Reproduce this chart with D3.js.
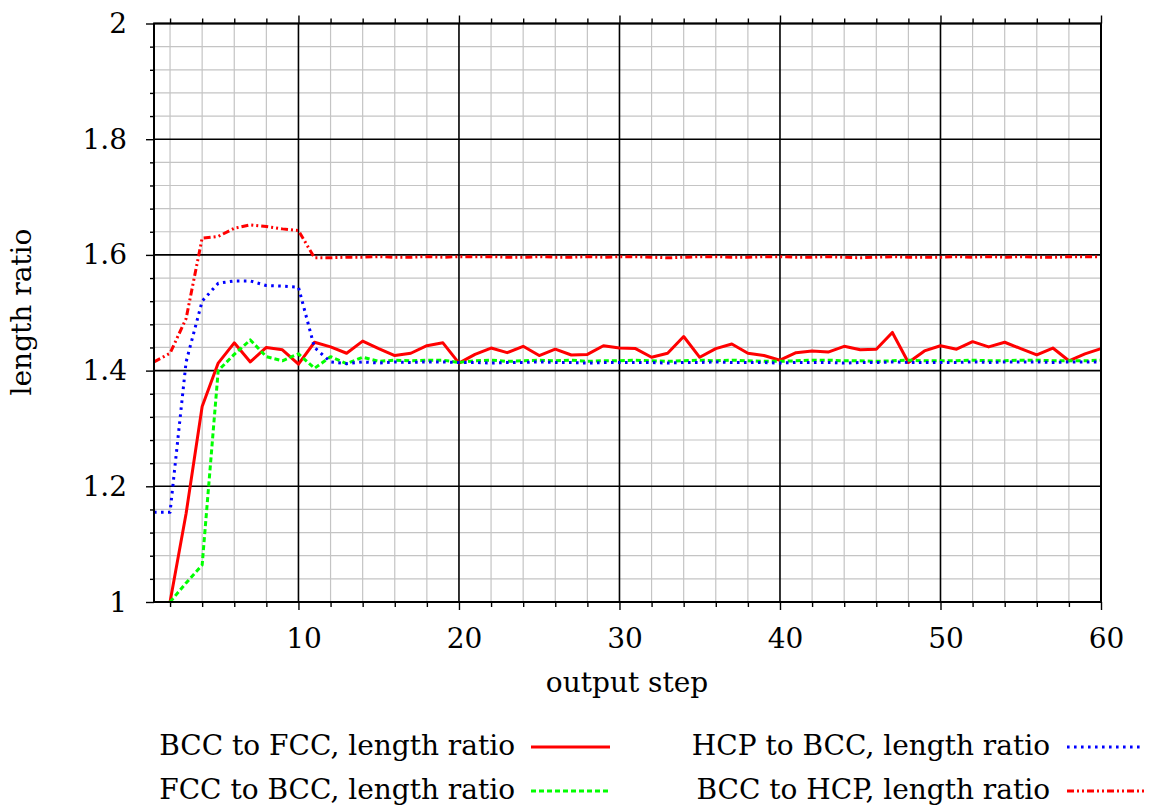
<!DOCTYPE html>
<html>
<head>
<meta charset="utf-8">
<script src="https://cdn.jsdelivr.net/npm/d3@7"></script>
<style>
  html, body { margin: 0; padding: 0; background: #fff; }
  svg { display: block; }
  text { font-family: "DejaVu Serif", "Liberation Serif", serif; fill: #000; }
</style>
</head>
<body>
<svg id="chart" width="1153" height="805"></svg>
<script>
// ---------- data ----------
const steps = [1,2,3,4,5,6,7,8,9,10,11,12,13,14,15,16,17,18,19,20,
  21,22,23,24,25,26,27,28,29,30,31,32,33,34,35,36,37,38,39,40,
  41,42,43,44,45,46,47,48,49,50,51,52,53,54,55,56,57,58,59,60];

const bccToFcc = [null,1.000,1.153,1.338,1.413,1.448,1.415,1.440,1.436,1.411,
  1.449,1.441,1.430,1.451,1.438,1.426,1.430,1.443,1.448,1.413,
  1.428,1.439,1.431,1.442,1.426,1.437,1.427,1.428,1.443,1.439,
  1.438,1.423,1.430,1.459,1.423,1.438,1.446,1.430,1.426,1.418,
  1.431,1.434,1.432,1.442,1.436,1.437,1.466,1.414,1.434,1.443,
  1.437,1.450,1.441,1.449,1.438,1.427,1.439,1.417,1.429,1.438];

const fccToBcc = [null,1.000,1.033,1.064,1.400,1.428,1.453,1.424,1.417,1.429,
  1.404,1.424,1.412,1.423,1.416,1.418,1.417,1.418,1.418,1.414,
  1.417,1.418,1.416,1.417,1.418,1.417,1.418,1.416,1.417,1.417,
  1.418,1.417,1.416,1.417,1.418,1.417,1.418,1.417,1.416,1.416,
  1.417,1.418,1.418,1.417,1.417,1.416,1.417,1.418,1.417,1.417,
  1.417,1.418,1.417,1.417,1.418,1.418,1.417,1.417,1.417,1.418];

const hcpToBcc = [1.155,1.155,1.415,1.520,1.551,1.555,1.555,1.547,1.546,1.544,
  1.440,1.415,1.412,1.415,1.413,1.415,1.414,1.415,1.415,1.414,
  1.414,1.413,1.414,1.414,1.415,1.414,1.414,1.413,1.414,1.414,
  1.414,1.414,1.413,1.414,1.414,1.415,1.414,1.414,1.414,1.413,
  1.414,1.414,1.414,1.413,1.414,1.414,1.415,1.414,1.414,1.414,
  1.414,1.415,1.414,1.415,1.415,1.415,1.414,1.415,1.415,1.415];

const bccToHcp = [1.415,1.430,1.490,1.629,1.632,1.646,1.652,1.649,1.645,1.642,
  1.595,1.595,1.596,1.596,1.597,1.596,1.596,1.597,1.596,1.597,
  1.597,1.597,1.596,1.596,1.597,1.596,1.596,1.597,1.596,1.597,
  1.597,1.596,1.595,1.596,1.597,1.597,1.596,1.596,1.597,1.597,
  1.596,1.596,1.597,1.596,1.595,1.596,1.597,1.596,1.596,1.596,
  1.597,1.596,1.597,1.596,1.597,1.596,1.596,1.597,1.597,1.597];

const xTicks = [10,20,30,40,50,60];
const xMinorTicks = [2,4,6,8,12,14,16,18,22,24,26,28,32,34,36,38,42,44,46,48,52,54,56,58];
const yTicks = [1,1.2,1.4,1.6,1.8,2];
const yMinorTicks = [1.04,1.08,1.12,1.16,1.24,1.28,1.32,1.36,1.44,1.48,1.52,1.56,1.64,1.68,1.72,1.76,1.84,1.88,1.92,1.96];

const seriesNames = ["BCC to FCC, length ratio","FCC to BCC, length ratio","HCP to BCC, length ratio","BCC to HCP, length ratio"];
const seriesColors = ["#ff0000","#00ff00","#0000ff","#ff0000"];
const seriesDash = [null,"5,3","2.6,4.4","7,3,2,3,2,3"];
const seriesData = [bccToFcc, fccToBcc, hcpToBcc, bccToHcp];

// ---------- layout ----------
const svg = d3.select("#chart");
const L = 154, R = 1101, T = 23.5, B = 602;
const x = d3.scaleLinear().domain([1,60]).range([L,R]);
const y = d3.scaleLinear().domain([1,2]).range([B,T]);
const FONT = "'DejaVu Serif', 'Liberation Serif', serif";

// minor grid
const g = svg.append("g");
g.selectAll("line.vmin").data(xMinorTicks).join("line")
  .attr("x1", d=>x(d)).attr("x2", d=>x(d)).attr("y1", T).attr("y2", B)
  .attr("stroke", "#c4c4c4").attr("stroke-width", 1.2);
g.selectAll("line.hmin").data(yMinorTicks).join("line")
  .attr("y1", d=>y(d)).attr("y2", d=>y(d)).attr("x1", L).attr("x2", R)
  .attr("stroke", "#c4c4c4").attr("stroke-width", 1.2);
// major grid
g.selectAll("line.vmaj").data(xTicks).join("line")
  .attr("x1", d=>x(d)).attr("x2", d=>x(d)).attr("y1", T).attr("y2", B)
  .attr("stroke", "#000").attr("stroke-width", 1.6);
g.selectAll("line.hmaj").data(yTicks).join("line")
  .attr("y1", d=>y(d)).attr("y2", d=>y(d)).attr("x1", L).attr("x2", R)
  .attr("stroke", "#000").attr("stroke-width", 1.6);

// axes (ticks outward)
const fs = 28;
const xAxis = d3.axisBottom(x).tickValues(xTicks).tickSize(8).tickFormat(d3.format("d"));
const xAxisMinor = d3.axisBottom(x).tickValues(xMinorTicks).tickSize(5).tickFormat("");
const xAxisTopMinor = d3.axisTop(x).tickValues(xMinorTicks).tickSize(5).tickFormat("");
const xAxisTop = d3.axisTop(x).tickValues(xTicks).tickSize(8).tickFormat("");
const yAxis = d3.axisLeft(y).tickValues(yTicks).tickSize(8).tickFormat(d=>d3.format("")(d));
const yAxisMinor = d3.axisLeft(y).tickValues(yMinorTicks).tickSize(4).tickFormat("");

function styleAxis(sel){
  sel.select(".domain").remove();
  sel.selectAll(".tick line").attr("stroke","#000").attr("stroke-width",1.4);
  sel.selectAll(".tick text").attr("font-family",FONT).attr("font-size",fs).attr("fill","#000");
}
svg.append("g").attr("transform",`translate(0,${B})`).call(xAxisMinor).call(styleAxis);
const gx = svg.append("g").attr("transform",`translate(0,${B})`).call(xAxis).call(styleAxis);
gx.selectAll(".tick text").attr("dy",null).attr("y",46).attr("dx",5);
svg.append("g").attr("transform",`translate(0,${T})`).call(xAxisTopMinor).call(styleAxis);
svg.append("g").attr("transform",`translate(0,${T})`).call(xAxisTop).call(styleAxis);
svg.append("g").attr("transform",`translate(${L},0)`).call(yAxisMinor).call(styleAxis);
const gy = svg.append("g").attr("transform",`translate(${L},0)`).call(yAxis).call(styleAxis);
gy.selectAll(".tick text").attr("dy",null).attr("y",9).attr("x",-27);

// data lines
const line = d3.line().defined(d=>d[1]!==null).x(d=>x(d[0])).y(d=>y(d[1]));
seriesData.forEach((vals,i)=>{
  const pts = steps.map((s,j)=>[s, vals[j]]);
  svg.append("path").datum(pts)
    .attr("d", line)
    .attr("fill","none")
    .attr("stroke", seriesColors[i])
    .attr("stroke-width", 3)
    .attr("stroke-dasharray", seriesDash[i])
    .attr("stroke-linejoin","round");
});

// frame
svg.append("rect").attr("x",L).attr("y",T).attr("width",R-L).attr("height",B-T)
  .attr("fill","none").attr("stroke","#000").attr("stroke-width",2);

// axis titles
svg.append("text").attr("x",627).attr("y",692).attr("text-anchor","middle")
  .attr("font-family",FONT).attr("font-size",fs).text("output step");
svg.append("text").attr("transform","translate(31,312) rotate(-90)").attr("text-anchor","middle")
  .attr("font-family",FONT).attr("font-size",fs).text("length ratio");

// legend
const legPos = [
  {tx:515, ty:755, lx1:531, lx2:610, ly:747},
  {tx:515, ty:799, lx1:531, lx2:609, ly:791},
  {tx:1050, ty:755, lx1:1067, lx2:1144, ly:747},
  {tx:1050, ty:799, lx1:1067, lx2:1147, ly:791}
];
seriesNames.forEach((name,i)=>{
  const p = legPos[i];
  svg.append("text").attr("x",p.tx).attr("y",p.ty).attr("text-anchor","end")
    .attr("font-family",FONT).attr("font-size",fs).text(name);
  svg.append("line").attr("x1",p.lx1).attr("x2",p.lx2).attr("y1",p.ly).attr("y2",p.ly)
    .attr("stroke",seriesColors[i]).attr("stroke-width",3)
    .attr("stroke-dasharray",seriesDash[i]);
});
</script>
</body>
</html>
